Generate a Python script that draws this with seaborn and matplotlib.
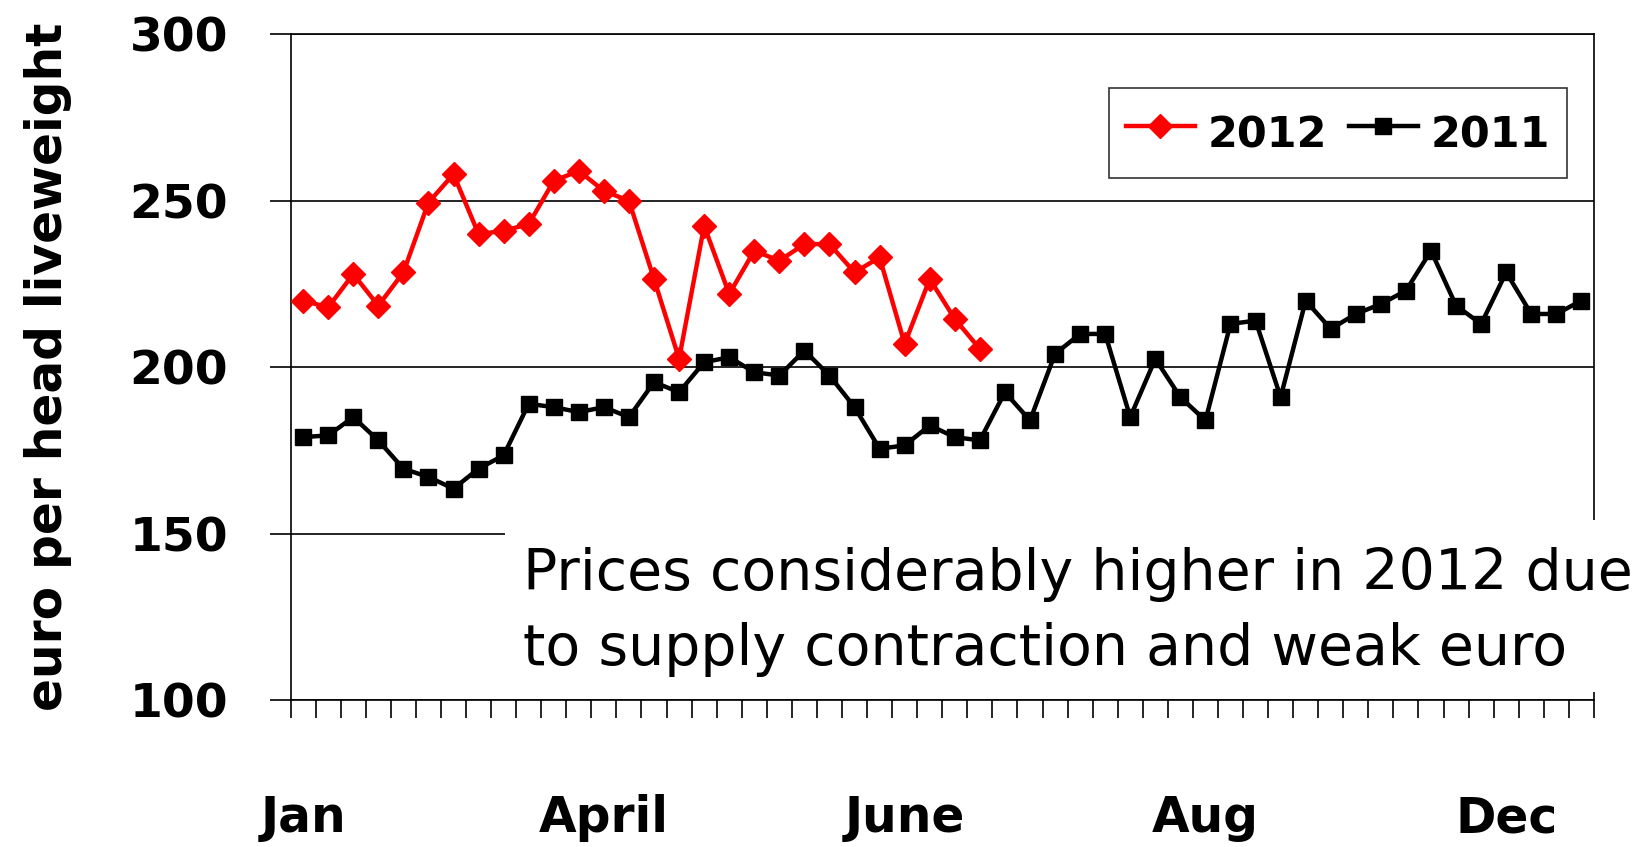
import numpy as np
import pandas as pd
import seaborn as sns
import matplotlib.pyplot as plt
from matplotlib.patches import Rectangle

# weekly prices, euro per head liveweight
price_2012 = [220, 218, 228, 218.5, 228.5, 249.5, 258, 240, 241, 243,
              256, 259, 253, 250, 226.5, 202.5, 242.5, 222, 235, 232,
              237, 237, 228.5, 233, 207, 226.5, 214.5, 205.5]
price_2011 = [179, 179.5, 185, 178, 169.5, 167, 163.5, 169.5, 173.5, 189,
              188, 186.5, 188, 185, 195.5, 192.5, 201.5, 203, 198.5, 197.5,
              205, 197.5, 188, 175.5, 176.5, 182.5, 179, 178, 192.5, 184,
              204, 210, 210, 185, 202.5, 191, 184, 213, 214, 191,
              220, 211.5, 216, 219, 223, 235, 218.5, 213, 228.5, 216,
              216, 220]
month_labels = ['Jan', 'April', 'June', 'Aug', 'Dec']
month_weeks = [0, 12, 24, 36, 48]
y_ticks = [100, 150, 200, 250, 300]
note = 'Prices considerably higher in 2012 due\nto supply contraction and weak euro'

df11 = pd.DataFrame({'week': np.arange(len(price_2011)) + 0.5, 'price': price_2011})
df12 = pd.DataFrame({'week': np.arange(len(price_2012)) + 0.5, 'price': price_2012})

fig = plt.figure(figsize=(16.39, 8.47), dpi=100)
ax = fig.add_axes([0.1773, 0.1736, 0.7952, 0.7857])

sns.lineplot(data=df11, x='week', y='price', ax=ax, color='black', linewidth=3.2,
             marker='s', markersize=16.5, markeredgecolor='black',
             markeredgewidth=1, label='2011', zorder=3)
sns.lineplot(data=df12, x='week', y='price', ax=ax, color='red', linewidth=3.2,
             marker='D', markersize=17, markeredgecolor='red',
             markeredgewidth=1, label='2012', zorder=4)

ax.set_xlim(0, 52)
ax.set_ylim(100, 300)
ax.set_xlabel('')
ax.set_ylabel('euro per head liveweight', fontsize=35, fontweight='bold')
ax.yaxis.set_label_coords(-0.168, 0.5)

ax.set_yticks(y_ticks)
ax.set_yticklabels([str(v) for v in y_ticks], fontsize=34, fontweight='bold')
ax.tick_params(axis='y', direction='out', length=15, width=1.2, pad=30)
ax.grid(axis='y', color='black', lw=1.2)
ax.set_axisbelow(True)

ax.set_xticks(np.arange(53), minor=True)
ax.set_xticks([w + 0.5 for w in month_weeks])
ax.set_xticklabels(month_labels, fontsize=35, fontweight='bold')
ax.tick_params(axis='x', which='major', length=0, pad=68)
ax.tick_params(axis='x', which='minor', direction='out', length=13, width=1.2)

for side in ['left', 'right', 'bottom', 'top']:
    ax.spines[side].set_color('black')
    ax.spines[side].set_linewidth(1.2)

handles, labels = ax.get_legend_handles_labels()
for h in handles:
    h.set_markersize(12)
leg = ax.legend(handles[::-1], labels[::-1], ncol=2, loc='center',
                bbox_to_anchor=(0.8163, 0.843), bbox_transform=fig.transFigure,
                prop={'size': 31, 'weight': 'bold'}, handlelength=1.6,
                handleheight=1.6, handletextpad=0.3, columnspacing=0.5,
                frameon=True, fancybox=False, borderpad=0.4)
leg.get_frame().set_edgecolor('black')
leg.get_frame().set_linewidth(1.2)

# white box behind the note, covering grid and right spine
ax.add_patch(Rectangle((505 / 1639, 1 - 692 / 847), 1, (692 - 520) / 847,
                       transform=fig.transFigure, facecolor='white',
                       edgecolor='none', clip_on=False, zorder=5))
fig.text(523 / 1639, 1 - 612 / 847, note, fontsize=41, ha='left',
         va='center', linespacing=1.46, zorder=6)

fig.savefig('out.png', dpi=100)
